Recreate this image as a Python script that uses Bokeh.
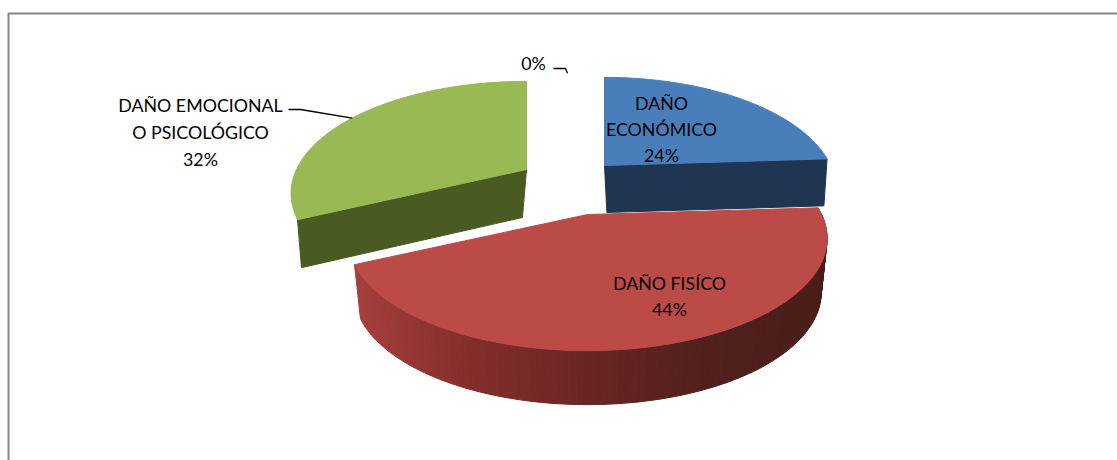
import numpy as np
from bokeh.core.properties import value
from bokeh.embed import file_html
from bokeh.models import ColumnDataSource, Range1d
from bokeh.plotting import figure
from bokeh.resources import INLINE

# ---- data ----
categories = ["DAÑO ECONÓMICO", "DAÑO FISÍCO", "DAÑO EMOCIONAL O PSICOLÓGICO", "OTROS"]
percentages = [24, 44, 32, 0]
top_colors = ["#4a7ebb", "#bc4b48", "#98b954", "#8064a2"]
label_lines = [["DAÑO", "ECONÓMICO", "24%"], ["DAÑO FISÍCO", "44%"],
               ["DAÑO EMOCIONAL", "O PSICOLÓGICO", "32%"], ["0%"]]

# ---- layout constants (page pixels) ----
W, H = 1117, 460
FONT = "Lato"
FS = "17.8px"
RXS = [226.0, 234.0, 230.0, 230.0]
RY, K = 107.0, 0.214
apex = [(604, 165), (587, 214), (526, 169), (567, 161)]
pivot_x = [700, 590, 410, 567]
shrink = [0.975, 0.975, 0.965, 1.0]
depth = [47, 54, 48, 0]
label_pos = [(661, [102, 128, 154]), (669, [282, 308]), (200, [104, 131, 158]), (533, [62])]

p = figure(width=W, height=H, output_backend="svg", toolbar_location=None,
           x_range=Range1d(0, W), y_range=Range1d(H, 0),
           x_axis_type=None, y_axis_type=None, min_border=0,
           background_fill_color="white", border_fill_color="white")
p.grid.visible = False
p.outline_line_color = None

# chart frame
p.line([8, 8, W], [H, 13, 13], line_color="#868686", line_width=2)


def project(i, deg):
    t = np.radians(deg)
    X, Y = np.sin(t), np.cos(t)
    den = 1 + K * Y
    return apex[i][0] + RXS[i] * X / den, apex[i][1] - RY * Y / den


def lower(i, x, y):
    return pivot_x[i] + (np.asarray(x) - pivot_x[i]) * shrink[i], np.asarray(y) + depth[i]


def mix(stops, f):
    f = min(max(f, 0), 1) * (len(stops) - 1)
    a = min(int(f), len(stops) - 2)
    c = [stops[a][j] + (stops[a + 1][j] - stops[a][j]) * (f - a) for j in range(3)]
    return "#%02x%02x%02x" % tuple(int(round(v)) for v in c)


# slice angles come from the percentages
edges = np.concatenate([[0], np.cumsum(percentages)]) * 3.6
red_wall = [(0xa8, 0x40, 0x3c), (0x85, 0x2e, 0x2c), (0x6a, 0x25, 0x23), (0x50, 0x20, 0x1d), (0x4a, 0x1c, 0x1a)]


def draw_top(i):
    a = np.linspace(edges[i], edges[i + 1], 90)
    x, y = project(i, a)
    p.patch(np.r_[apex[i][0], x], np.r_[apex[i][1], y], fill_color=top_colors[i],
            line_color=top_colors[i], line_width=1)


# blue slice
i = 0
x1, y1 = project(i, edges[1])
xs, ys = lower(i, [apex[i][0], x1], [apex[i][1], y1])
p.patch([apex[i][0], x1, xs[1], xs[0]], [apex[i][1], y1, ys[1], ys[0]],
        fill_color="#1f3552", line_color="#1f3552")
draw_top(i)

# green slice
i = 2
x1, y1 = project(i, edges[2])
xs, ys = lower(i, [apex[i][0], x1], [apex[i][1], y1])
p.patch([apex[i][0], x1, xs[1], xs[0]], [apex[i][1], y1, ys[1], ys[0]],
        fill_color="#4a5a23", line_color="#4a5a23")
draw_top(i)

# red slice: shaded outer wall in strips, then the top
i = 1
a = np.linspace(edges[1], edges[2], 120)
x, y = project(i, a)
bx, by = lower(i, x, y)
xs_l, ys_l, cols = [], [], []
for j in range(len(a) - 1):
    xs_l.append([x[j], x[j + 1], bx[j + 1], bx[j]])
    ys_l.append([y[j], y[j + 1], by[j + 1], by[j]])
    cols.append(mix(red_wall, (bx[j] - 352) / (826 - 352)))
p.patches("xs", "ys", source=ColumnDataSource(dict(xs=xs_l, ys=ys_l, c=cols)),
          fill_color="c", line_color="c", line_width=1)
draw_top(i)

# leader lines, ending on the slices' outer edge
mid = (edges[2] + edges[3]) / 2
ex, ey = project(2, mid)
p.line([288, 300, ex], [109, 109, ey], line_color="black", line_width=1.3)
ex, ey = project(3, edges[3])
p.line([553, 565, ex], [68, 68, ey], line_color="black", line_width=1.3)

# labels
for (cx, ys_t), lines in zip(label_pos, label_lines):
    p.text([cx] * len(lines), ys_t, text=lines, text_font=value(FONT), text_font_size=FS,
           text_color="black", text_align="center", text_baseline="middle")

open("out.html", "w").write(file_html(p, INLINE))
